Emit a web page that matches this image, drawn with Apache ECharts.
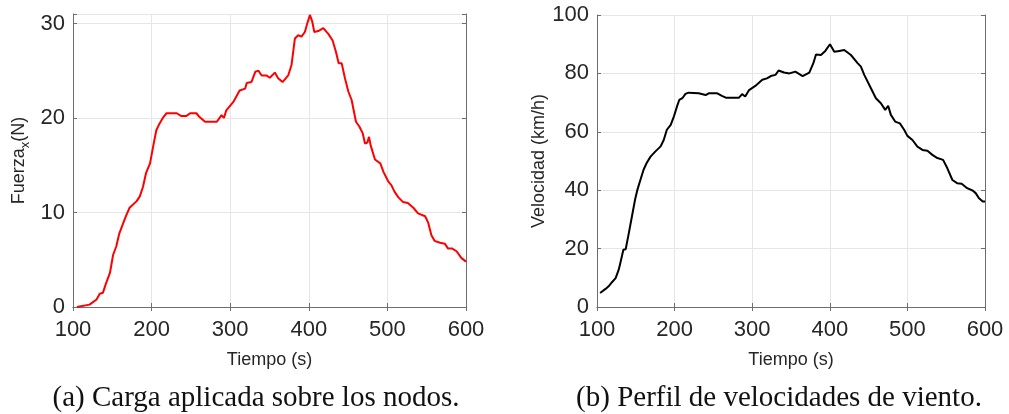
<!DOCTYPE html>
<html>
<head>
<meta charset="utf-8">
<script src="https://cdn.jsdelivr.net/npm/echarts@6/dist/echarts.min.js"></script>
<style>
html,body{margin:0;padding:0;background:#fff;}
#chart{width:1009px;height:414px;}
</style>
</head>
<body>
<div id="chart"></div>
<script>
// Panel (a): applied force
const timeA = [105,121,130,134,138,142,147,151,155,159,164,168,172,181,185,189,193,198,202,206,210,215,219,232,238,244,249,257,261,268,283,285,289,292,294,295,299,304,308,312,319,321,327,332,336,340,346,350.4,356.8,361,366.6,373.8,378,382.3,386.5,390.7,395,398,401.4,404.4,407,412,418.4,424.8,430.3,434.5,438,441.8,446,450.3,454.5,460,464.3,468.5,471.5,474.5,476.6,478.7,484.2,491,495,501,505,509,514,520,526,533,539,548,552,556,560,567,573,577,582,588,594,600];
const forceA = [0,0.25,0.8,1.4,1.5,2.5,3.6,5.5,6.4,7.8,8.9,9.75,10.5,11.2,11.7,12.7,14.2,15.2,17,18.7,19.4,20.1,20.5,20.5,20.2,20.2,20.5,20.5,20.1,19.6,19.6,19.5,20.3,20,20.1,20.8,21.2,21.7,22.3,22.9,23.1,23.7,23.8,24.9,25,24.5,24.5,24.25,24.8,24.2,23.8,24.5,25.6,28.4,28.75,28.6,29.1,30,30.9,30.2,29.1,29.2,29.5,28.9,28.2,27,25.8,25.8,24.2,22.8,21.9,19.6,19.1,18.4,17.3,17.4,18,17.1,15.6,15.2,14.3,13.3,12.9,12.2,11.6,11.1,11,10.5,9.9,9.6,8.9,7.6,7.0,6.8,6.7,6.2,6.2,5.9,5.2,4.8];

// Panel (b): wind speed profile
const timeB = [104,111,115,119,124,128,130,132,134,137,141,145,149,152,156,160,164,169,175,182,186,190,195,199,203,206,210,214,218,231,240,244,255,261,266,283,287,291,296,304,313,319,324,330,334,341,348,355.6,365,373.6,378.8,382.2,388.6,394.2,400.2,405.8,412.2,418.6,427.2,435.8,440.1,444.4,453,459.4,465.8,471.4,475.2,478.7,484.2,490.3,495.8,500,506.5,512.9,519.4,525.8,532.2,538.6,546,551.5,558,564,570,577,584,588,592,597,600];
const speedB = [4.8,6.2,7.1,8.4,9.9,12.8,15,17.3,19.6,19.8,25.3,31,36.7,40.1,43.6,47,49.3,51.5,53.2,55,57.2,60.7,62.4,65.2,68.6,70.9,71.5,73,73.4,73.2,72.6,73.2,73.2,72.3,71.7,71.7,72.9,72.1,74.3,75.7,77.8,78.3,79.1,79.5,81,80.3,80.0,80.6,79.1,80.3,83.5,86.5,86.3,87.7,90,87.4,87.7,88,86.3,83.5,82.3,79.5,74.9,71.5,69.8,67.5,68.9,65.8,63.5,62.9,60.7,58.6,57.2,54.9,53.8,53.5,52.1,51,50.4,47.5,43.5,42.4,42.2,40.7,39.9,39,37.3,36.1,36.1];

const xTicks = [100, 600, 100];   // min, max, interval
const yTicksA = [0, 31, 10];
const yTicksB = [0, 100, 20];

const xNameA = 'Tiempo (s)';
const xNameB = 'Tiempo (s)';
const yNameB = 'Velocidad (km/h)';
const captionA = '(a) Carga aplicada sobre los nodos.';
const captionB = '(b) Perfil de velocidades de viento.';

const SANS = '"Liberation Sans", Arial, sans-serif';
const AXC = '#6e6e6e';
const TXT = '#262626';
const GRIDC = '#e6e6e6';

function mainX(grid, name) {
  return {
    type: 'value', gridIndex: grid, position: 'bottom',
    min: xTicks[0], max: xTicks[1], interval: xTicks[2],
    name: name, nameLocation: 'middle', nameGap: 44,
    nameTextStyle: {fontFamily: SANS, fontSize: 18, color: TXT},
    axisLine: {show: true, lineStyle: {color: AXC, width: 1}},
    axisTick: {show: true, inside: true, length: 4, lineStyle: {color: AXC}},
    axisLabel: {fontFamily: SANS, fontSize: 22, color: TXT, margin: 12},
    splitLine: {show: true, lineStyle: {color: GRIDC, width: 1}}
  };
}
function mirrorX(grid) {
  return {
    type: 'value', gridIndex: grid, position: 'top',
    min: xTicks[0], max: xTicks[1], interval: xTicks[2],
    axisLine: {show: true, lineStyle: {color: AXC, width: 1}},
    axisTick: {show: true, inside: true, length: 4, lineStyle: {color: AXC}},
    axisLabel: {show: false}, splitLine: {show: false}
  };
}
function mainY(grid, t, name, gap, rich) {
  const o = {
    type: 'value', gridIndex: grid, position: 'left',
    min: t[0], max: t[1], interval: t[2],
    name: name, nameLocation: 'middle', nameGap: gap,
    nameTextStyle: {fontFamily: SANS, fontSize: 18, color: TXT},
    axisLine: {show: true, lineStyle: {color: AXC, width: 1}},
    axisTick: {show: true, inside: true, length: 4, lineStyle: {color: AXC}},
    axisLabel: {fontFamily: SANS, fontSize: 22, color: TXT, margin: 8, padding: [4,0,0,0],
      formatter: function (v) { return (v % t[2] === 0) ? String(v) : ''; }},
    splitLine: {show: true, lineStyle: {color: GRIDC, width: 1}}
  };
  if (rich) o.nameTextStyle.rich = rich;
  return o;
}
function mirrorY(grid, t) {
  return {
    type: 'value', gridIndex: grid, position: 'right',
    min: t[0], max: t[1], interval: t[2],
    axisLine: {show: true, lineStyle: {color: AXC, width: 1}},
    axisTick: {show: true, inside: true, length: 4, lineStyle: {color: AXC}},
    axisLabel: {show: false}, splitLine: {show: false}
  };
}

const richY = {
  a: {fontFamily: SANS, fontSize: 18, color: TXT},
  s: {fontFamily: SANS, fontSize: 13, color: TXT, padding: [12, 0, 0, 0]}
};

const chart = echarts.init(document.getElementById('chart'), null, {renderer: 'canvas'});
chart.setOption({
  backgroundColor: '#ffffff',
  animation: false,
  grid: [
    {left: 73, top: 14, width: 393, height: 293},
    {left: 597, top: 15, width: 388, height: 292}
  ],
  xAxis: [mainX(0, xNameA), mirrorX(0), mainX(1, xNameB), mirrorX(1)],
  yAxis: [
    mainY(0, yTicksA, '{a|Fuerza}{s|x}{a|(N)}', 41, richY),
    mirrorY(0, yTicksA),
    mainY(1, yTicksB, yNameB, 49),
    mirrorY(1, yTicksB)
  ],
  series: [
    {
      type: 'line', xAxisIndex: 0, yAxisIndex: 0,
      data: timeA.map((t, i) => [t, forceA[i]]),
      showSymbol: false, smooth: false,
      lineStyle: {color: '#ff0000', width: 2}, itemStyle: {color: '#ff0000'}
    },
    {
      type: 'line', xAxisIndex: 2, yAxisIndex: 2,
      data: timeB.map((t, i) => [t, speedB[i]]),
      showSymbol: false, smooth: false,
      lineStyle: {color: '#000000', width: 2}, itemStyle: {color: '#000000'}
    }
  ],
  graphic: [
    {type: 'text', x: 256, y: 398, style: {text: captionA, font: '29px "Liberation Serif", "Times New Roman", serif', fill: '#111', textAlign: 'center', textVerticalAlign: 'middle'}},
    {type: 'text', x: 779, y: 398, style: {text: captionB, font: '29px "Liberation Serif", "Times New Roman", serif', fill: '#111', textAlign: 'center', textVerticalAlign: 'middle'}}
  ]
});
</script>
</body>
</html>
